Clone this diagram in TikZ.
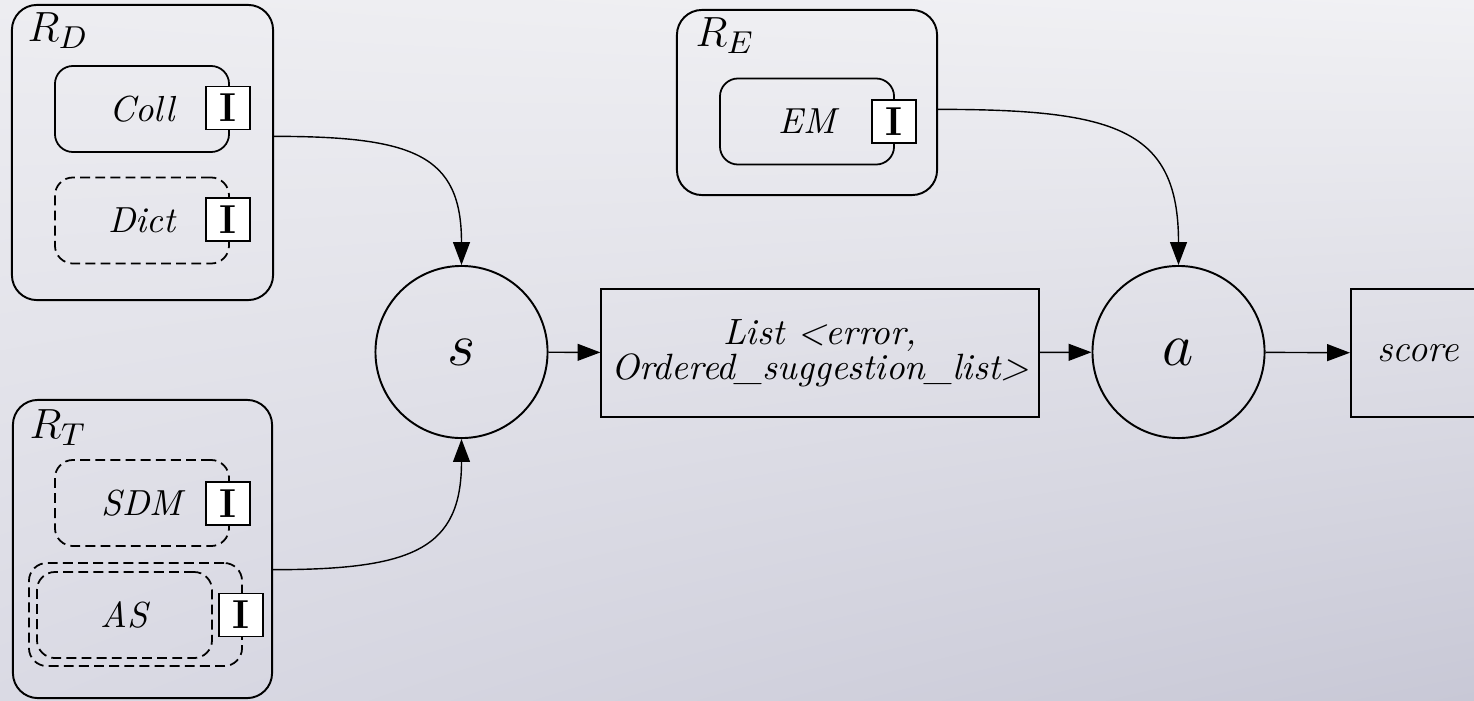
\documentclass[tikz,border=0pt]{standalone}
\usepackage{fontspec}
\usetikzlibrary{arrows.meta,shadings}
\definecolor{bgUL}{HTML}{EDEDF1}
\definecolor{bgUR}{HTML}{F1F1F4}
\definecolor{bgLL}{HTML}{DADAE4}
\definecolor{bgLR}{HTML}{C8C8D6}
\begin{document}
\begin{tikzpicture}[x=0.01cm,y=-0.01cm,
  outerbox/.style={draw,line width=0.55pt,rounded corners=0.25cm,inner sep=0pt},
  innerbox/.style={draw,line width=0.5pt,rounded corners=0.18cm,inner sep=0pt,minimum width=1.74cm,minimum height=0.86cm,font=\fontsize{10.3}{12}\selectfont\itshape},
  dashedbox/.style={innerbox,dash pattern=on 2.8pt off 1.5pt},
  ibox/.style={draw,fill=white,line width=0.5pt,minimum width=0.44cm,minimum height=0.43cm,inner sep=0pt,font=\fontsize{11.5}{12}\selectfont\bfseries},
  reglabel/.style={inner sep=0pt,font=\fontsize{12.5}{14}\selectfont},
  proc/.style={circle,draw,line width=0.55pt,minimum size=1.72cm,inner sep=0pt,font=\fontsize{17}{20}\selectfont},
  databox/.style={draw,line width=0.55pt,inner sep=0pt,minimum height=1.28cm,font=\fontsize{10.4}{10}\selectfont\itshape,align=center},
  conn/.style={line width=0.4pt,-{Triangle[length=6.5pt,width=4.8pt]}},
]
\useasboundingbox (0,0) rectangle (1474,700);
\clip (0,0) rectangle (1474,700);
\shade[upper left=bgUL,upper right=bgUR,lower left=bgLL,lower right=bgLR] (0,0) rectangle (1474,700);

% R_D
\node[outerbox,minimum width=2.61cm,minimum height=2.95cm] (RD) at (142.5,152.5) {};
\node[reglabel] (RDl) at (58,31) {$R_D$};
\node[innerbox] (Coll) at (142,109) {Coll};
\node[ibox] (IColl) at (228,108) {I};
\node[dashedbox] (Dict) at (142,220.5) {Dict};
\node[ibox] (IDict) at (228,219.5) {I};

% R_T
\node[outerbox,minimum width=2.59cm,minimum height=2.98cm] (RT) at (142.5,549) {};
\node[reglabel] (RTl) at (58,428) {$R_T$};
\node[dashedbox] (SDM) at (142,503) {SDM};
\node[ibox] (ISDM) at (228,503.5) {I};
\node[dashedbox,minimum width=2.13cm,minimum height=1.03cm] (ASo) at (135.5,614.5) {};
\node[dashedbox,minimum width=1.75cm,minimum height=0.86cm] (AS) at (124.5,615) {AS};
\node[ibox] (IAS) at (241,615) {I};

% R_E
\node[outerbox,minimum width=2.60cm,minimum height=1.85cm] (RE) at (807,102.5) {};
\node[reglabel] (REl) at (725,36) {$R_E$};
\node[innerbox] (EM) at (807,121.5) {EM};
\node[ibox] (IEM) at (894,121.5) {I};

% main flow
\node[proc] (s) at (461.5,352) {$s$};
\node[databox,minimum width=4.37cm] (List) at (820,353) {List <error,\\Ordered\_suggestion\_list>};
\node[proc] (a) at (1178.5,352) {$a$};
\node[databox,minimum width=1.34cm,font=\fontsize{11}{13}\selectfont\itshape] (score) at (1418,353) {score};

\draw[conn] (s) -- (List);
\draw[conn] (List) -- (a);
\draw[conn] (a) -- (score);

\draw[conn] (RD.7) .. controls +(140,0) and +(0,-110) .. (s.north);
\draw[conn] (RT.-9) .. controls +(140,0) and +(0,110) .. (s.south);
\draw[conn] (RE.-3) .. controls +(178,0) and +(0,-136) .. (a.north);
\end{tikzpicture}
\end{document}
